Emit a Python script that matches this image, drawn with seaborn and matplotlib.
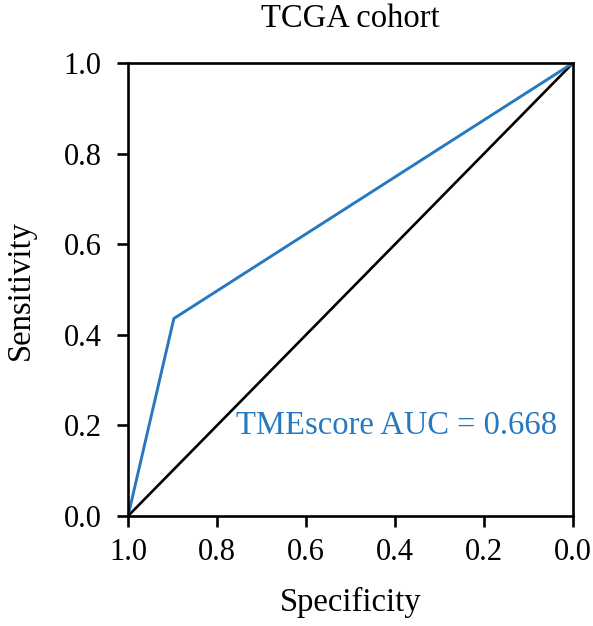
import matplotlib
matplotlib.use("Agg")
import matplotlib.pyplot as plt
import seaborn as sns
import pandas as pd

specificity = [1.0, 0.897, 0.0]
sensitivity = [0.0, 0.436, 1.0]
diag_spec = [1.0, 0.0]
diag_sens = [0.0, 1.0]
ticks = [0.0, 0.2, 0.4, 0.6, 0.8, 1.0]
title = "TCGA cohort"
label = "TMEscore AUC = 0.668"

sns.set_style("ticks")
plt.rcParams['font.family'] = ['Liberation Serif', 'DejaVu Serif']
plt.rcParams['text.color'] = 'black'
plt.rcParams['axes.labelcolor'] = 'black'
plt.rcParams['xtick.color'] = 'black'
plt.rcParams['ytick.color'] = 'black'

fig = plt.figure(figsize=(5.93, 6.26), dpi=100)
ax = fig.add_axes([0.2159, 0.1757, 0.7504, 0.7236])

df = pd.DataFrame({"spec": specificity, "sens": sensitivity})
dd = pd.DataFrame({"spec": diag_spec, "sens": diag_sens})
sns.lineplot(data=dd, x="spec", y="sens", sort=False, color="black", linewidth=1.9, ax=ax)
sns.lineplot(data=df, x="spec", y="sens", sort=False, color="#2878c0", linewidth=2.1, ax=ax)

fs = 23.5
tfs = 22
ax.set_xlim(1.0, 0.0)
ax.set_ylim(0.0, 1.0)
ax.set_xticks(ticks)
ax.set_yticks(ticks)
ax.set_xticklabels([f"{t:.1f}" for t in ticks])
ax.set_yticklabels([f"{t:.1f}" for t in ticks])
ax.tick_params(labelsize=tfs, length=8, width=1.9, colors="black")
ax.tick_params(axis="x", pad=8)
ax.tick_params(axis="y", pad=11)
for s in ax.spines.values():
    s.set_linewidth(1.9)
    s.set_color("black")
ax.set_xlabel("Specificity", fontsize=fs, labelpad=14)
ax.set_ylabel("Sensitivity", fontsize=fs, labelpad=20)
ax.set_title(title, fontsize=fs, pad=26, color="black")
ax.text(0.035, 0.2, label, color="#2878c0", fontsize=fs, ha="right", va="center")

fig.savefig("out.png", dpi=100)
